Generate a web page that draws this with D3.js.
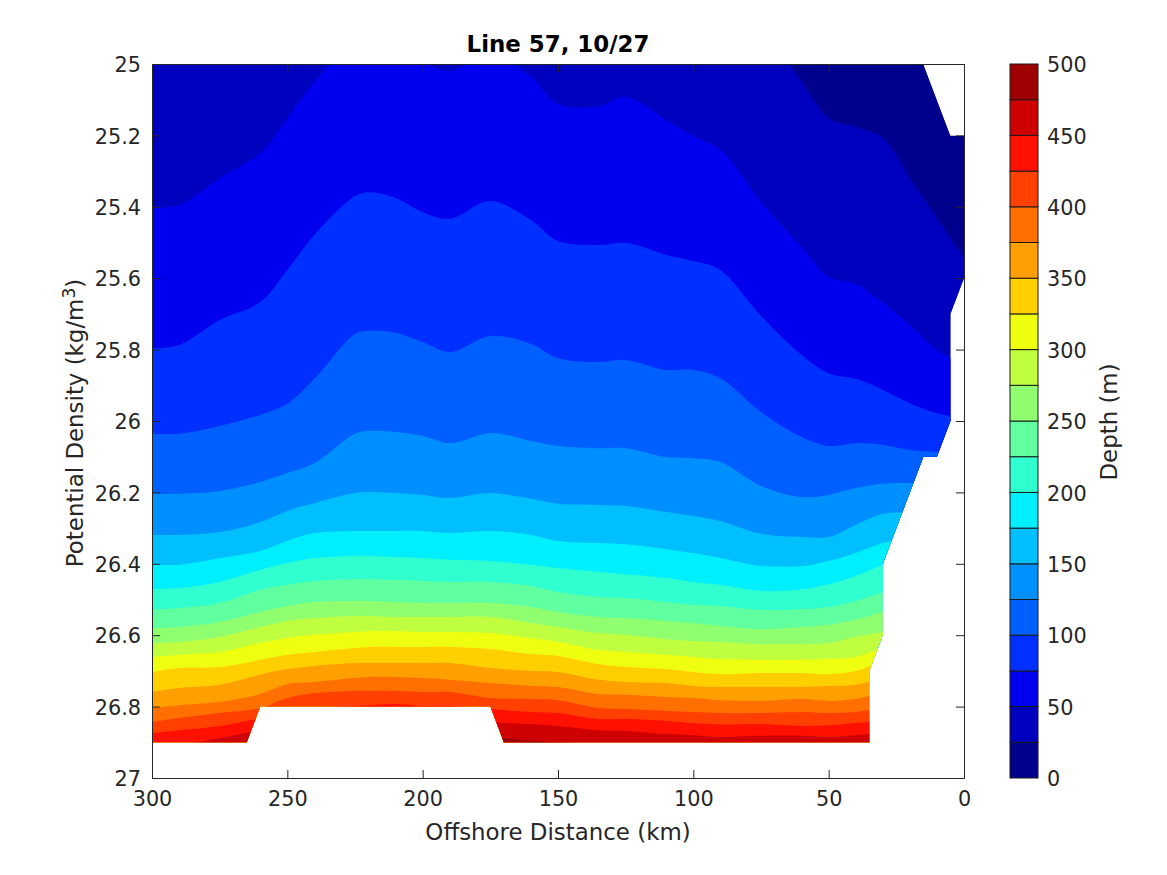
<!DOCTYPE html>
<html>
<head>
<meta charset="utf-8">
<script src="https://cdn.jsdelivr.net/npm/d3@7"></script>
<style>
  body { margin: 0; background: #fff; }
  text { font-family: "DejaVu Sans", sans-serif; fill: #262626; }
</style>
</head>
<body>
<div id="chart-area"></div>
<script>
// offshore stations (km) shared by every depth contour
const stations = [300, 290, 275, 260, 250, 240, 225, 220, 210, 200, 190, 175, 160, 150, 135, 125, 110, 100, 90, 75, 60, 50, 40, 30, 20, 10, 0];

// potential density of each depth contour at the stations
// values under 25 or over 26.9 sit outside the plotted field
const d25 = [24.9, 24.9, 24.9, 24.9, 24.9, 24.9, 24.9, 24.9, 24.9, 24.9, 24.9, 24.9, 24.9, 24.9, 24.9, 24.9, 24.9, 24.9, 24.9, 24.9, 25.05, 25.151, 25.176, 25.207, 25.319, 25.431, 25.543];
const d50 = [25.401, 25.395, 25.319, 25.249, 25.151, 25.05, 24.933, 24.922, 24.933, 24.99, 25.02, 24.97, 25.036, 25.112, 25.118, 25.092, 25.157, 25.202, 25.241, 25.387, 25.513, 25.597, 25.616, 25.669, 25.731, 25.801, 25.843];
const d75 = [25.796, 25.787, 25.717, 25.667, 25.577, 25.479, 25.37, 25.359, 25.375, 25.415, 25.434, 25.384, 25.437, 25.496, 25.507, 25.501, 25.535, 25.552, 25.577, 25.706, 25.815, 25.866, 25.882, 25.913, 25.95, 25.978, 25.992];
const d100 = [26.036, 26.036, 26.014, 25.983, 25.952, 25.882, 25.756, 25.748, 25.753, 25.779, 25.807, 25.762, 25.784, 25.824, 25.835, 25.829, 25.857, 25.857, 25.88, 25.975, 26.045, 26.07, 26.062, 26.067, 26.081, 26.087, 26.095];
const d125 = [26.204, 26.204, 26.196, 26.171, 26.146, 26.118, 26.036, 26.028, 26.031, 26.042, 26.062, 26.034, 26.056, 26.07, 26.076, 26.076, 26.101, 26.104, 26.115, 26.182, 26.213, 26.207, 26.188, 26.176, 26.174, 26.176, 26.182];
const d150 = [26.319, 26.319, 26.311, 26.283, 26.252, 26.23, 26.202, 26.199, 26.202, 26.207, 26.216, 26.202, 26.218, 26.232, 26.235, 26.238, 26.255, 26.266, 26.28, 26.316, 26.325, 26.325, 26.291, 26.26, 26.255, 26.255, 26.255];
const d175 = [26.403, 26.403, 26.384, 26.364, 26.336, 26.314, 26.308, 26.308, 26.308, 26.308, 26.314, 26.308, 26.319, 26.336, 26.342, 26.345, 26.359, 26.37, 26.384, 26.406, 26.406, 26.392, 26.37, 26.342, 26.328, 26.328, 26.328];
const d200 = [26.471, 26.468, 26.451, 26.417, 26.398, 26.384, 26.378, 26.378, 26.381, 26.384, 26.389, 26.392, 26.403, 26.412, 26.423, 26.429, 26.44, 26.451, 26.459, 26.476, 26.471, 26.457, 26.434, 26.403, 26.375, 26.375, 26.375];
const d225 = [26.529, 26.524, 26.51, 26.473, 26.459, 26.448, 26.443, 26.443, 26.445, 26.448, 26.451, 26.451, 26.462, 26.479, 26.493, 26.496, 26.507, 26.515, 26.518, 26.529, 26.527, 26.521, 26.504, 26.479, 26.451, 26.451, 26.451];
const d250 = [26.58, 26.577, 26.563, 26.535, 26.518, 26.507, 26.504, 26.504, 26.507, 26.51, 26.51, 26.51, 26.521, 26.535, 26.549, 26.552, 26.56, 26.566, 26.574, 26.583, 26.577, 26.571, 26.557, 26.535, 26.52, 26.52, 26.52];
const d275 = [26.622, 26.619, 26.605, 26.577, 26.56, 26.552, 26.546, 26.546, 26.549, 26.549, 26.549, 26.549, 26.566, 26.577, 26.594, 26.599, 26.611, 26.616, 26.619, 26.625, 26.625, 26.622, 26.605, 26.591, 26.58, 26.58, 26.58];
const d300 = [26.661, 26.655, 26.647, 26.622, 26.608, 26.599, 26.591, 26.588, 26.588, 26.591, 26.591, 26.594, 26.608, 26.619, 26.641, 26.647, 26.655, 26.661, 26.667, 26.669, 26.669, 26.667, 26.661, 26.636, 26.62, 26.62, 26.62];
const d325 = [26.703, 26.692, 26.689, 26.669, 26.655, 26.647, 26.636, 26.633, 26.633, 26.633, 26.633, 26.639, 26.653, 26.658, 26.681, 26.689, 26.695, 26.703, 26.709, 26.706, 26.706, 26.709, 26.7, 26.675, 26.66, 26.66, 26.66];
const d350 = [26.759, 26.748, 26.739, 26.711, 26.695, 26.686, 26.678, 26.678, 26.678, 26.678, 26.678, 26.692, 26.7, 26.703, 26.725, 26.731, 26.734, 26.742, 26.745, 26.745, 26.745, 26.742, 26.739, 26.72, 26.7, 26.7, 26.7];
const d375 = [26.804, 26.796, 26.787, 26.765, 26.737, 26.731, 26.72, 26.717, 26.717, 26.72, 26.725, 26.734, 26.742, 26.745, 26.765, 26.767, 26.773, 26.776, 26.782, 26.784, 26.779, 26.784, 26.779, 26.76, 26.75, 26.75, 26.75];
const d400 = [26.843, 26.832, 26.818, 26.804, 26.776, 26.762, 26.756, 26.756, 26.756, 26.759, 26.759, 26.776, 26.779, 26.782, 26.804, 26.807, 26.812, 26.815, 26.818, 26.818, 26.815, 26.818, 26.815, 26.804, 26.8, 26.8, 26.8];
const d425 = [26.874, 26.866, 26.854, 26.832, 26.815, 26.804, 26.798, 26.796, 26.793, 26.798, 26.798, 26.807, 26.815, 26.818, 26.835, 26.835, 26.84, 26.846, 26.85, 26.849, 26.854, 26.852, 26.846, 26.838, 26.83, 26.83, 26.83];
const d450 = [26.916, 26.91, 26.888, 26.866, 26.852, 26.838, 26.824, 26.824, 26.824, 26.824, 26.824, 26.843, 26.849, 26.854, 26.866, 26.868, 26.877, 26.88, 26.885, 26.882, 26.882, 26.885, 26.88, 26.874, 26.87, 26.87, 26.87];
const d475 = [26.93, 26.93, 26.93, 26.93, 26.93, 26.93, 26.93, 26.93, 26.93, 26.93, 26.93, 26.888, 26.896, 26.899, 26.91, 26.93, 26.93, 26.93, 26.93, 26.93, 26.93, 26.93, 26.93, 26.93, 26.93, 26.93, 26.93];

// outline of the field that has data
const fieldKm = [300, 15, 5, 0, 0, 5, 5, 10, 15, 30, 30, 35, 35, 170, 175, 260, 265, 300];
const fieldDensity = [25, 25, 25.2, 25.2, 25.6, 25.7, 26, 26.1, 26.1, 26.4, 26.6, 26.7, 26.9, 26.9, 26.8, 26.8, 26.9, 26.9];

const contours = [d25, d50, d75, d100, d125, d150, d175, d200, d225, d250, d275, d300, d325, d350, d375, d400, d425, d450, d475];
const depthEdges = [0, 25, 50, 75, 100, 125, 150, 175, 200, 225, 250, 275, 300, 325, 350, 375, 400, 425, 450, 475, 500];
const bandColors = ["#00008f", "#0000bf", "#0000ef", "#0030ff", "#0060ff", "#008fff", "#00bfff", "#00efff", "#30ffcf", "#60ff9f", "#8fff70", "#bfff40", "#efff10", "#ffcf00", "#ff9f00", "#ff7000", "#ff4000", "#ff1000", "#cf0000", "#9f0000"];

const xTicks = [300, 250, 200, 150, 100, 50, 0];
const yTicks = [25, 25.2, 25.4, 25.6, 25.8, 26, 26.2, 26.4, 26.6, 26.8, 27];
const depthTicks = [0, 50, 100, 150, 200, 250, 300, 350, 400, 450, 500];

const left = 152, right = 964, top_ = 64, bottom = 778;
const axisColor = "#262626";

const svg = d3.select("#chart-area")
  .append("svg")
  .attr("width", 1167)
  .attr("height", 875)
  .style("display", "block");

const x = d3.scaleLinear().domain([300, 0]).range([left, right]);
const y = d3.scaleLinear().domain([25, 27]).range([top_, bottom]);
const depthY = d3.scaleLinear().domain([0, 500]).range([bottom, top_]);

// clip the filled bands to the outline of the field
const outline = d3.line().x(d => x(d[0])).y(d => y(d[1]));
const fieldPoints = d3.zip(fieldKm, fieldDensity);
svg.append("clipPath").attr("id", "field")
  .append("path").attr("d", outline(fieldPoints) + "Z");

const plot = svg.append("g").attr("clip-path", "url(#field)");

plot.append("path")
  .attr("d", outline(fieldPoints) + "Z")
  .attr("fill", bandColors[0]);

// paint shallow to deep, each contour fills everything under it
const band = d3.area()
  .x(d => x(d[0]))
  .y0(bottom)
  .y1(d => y(d[1]))
  .curve(d3.curveCatmullRom.alpha(0.5));

plot.selectAll("path.band")
  .data(contours)
  .enter()
  .append("path")
  .attr("class", "band")
  .attr("d", d => band(d3.zip(stations, d)))
  .attr("fill", (_, i) => bandColors[i + 1]);

// box with inward ticks on all four sides
const tickLen = 8;
function styleAxis(g) {
  g.selectAll(".domain").attr("stroke", axisColor).attr("stroke-width", 1);
  g.selectAll(".tick line").attr("stroke", axisColor);
  g.selectAll(".tick text").attr("font-size", 20.8).attr("fill", axisColor);
}

svg.append("g")
  .attr("transform", `translate(0,${bottom})`)
  .call(d3.axisBottom(x).tickValues(xTicks).tickFormat(d3.format("d")).tickSize(-tickLen).tickSizeOuter(0).tickPadding(13))
  .call(styleAxis);
svg.append("g")
  .attr("transform", `translate(0,${top_})`)
  .call(d3.axisTop(x).tickValues(xTicks).tickFormat("").tickSize(-tickLen).tickSizeOuter(0))
  .call(styleAxis);
svg.append("g")
  .attr("transform", `translate(${left},0)`)
  .call(d3.axisLeft(y).tickValues(yTicks).tickFormat(d3.format("~g")).tickSize(-tickLen).tickSizeOuter(0).tickPadding(11))
  .call(styleAxis)
  .call(g => g.selectAll(".tick text").attr("dy", "0.37em"));
svg.append("g")
  .attr("transform", `translate(${right},0)`)
  .call(d3.axisRight(y).tickValues(yTicks).tickFormat("").tickSize(-tickLen).tickSizeOuter(0))
  .call(styleAxis);

// colour bar
const barLeft = 1010, barRight = 1038;
svg.selectAll("rect.swatch")
  .data(bandColors)
  .enter()
  .append("rect")
  .attr("class", "swatch")
  .attr("x", barLeft)
  .attr("width", barRight - barLeft)
  .attr("y", (_, i) => depthY(depthEdges[i + 1]))
  .attr("height", (_, i) => depthY(depthEdges[i]) - depthY(depthEdges[i + 1]))
  .attr("fill", d => d)
  .attr("stroke", "#1a1a1a")
  .attr("stroke-width", 1);

svg.append("g")
  .attr("transform", `translate(${barRight},0)`)
  .call(d3.axisRight(depthY).tickValues(depthTicks).tickSize(0).tickPadding(9))
  .call(styleAxis)
  .call(g => g.select(".domain").remove())
  .call(g => g.selectAll(".tick text").attr("dy", "0.37em"));

svg.append("text")
  .attr("x", 558).attr("y", 52)
  .attr("text-anchor", "middle")
  .attr("font-size", 22.9).attr("font-weight", "bold")
  .style("fill", "#000")
  .text("Line 57, 10/27");

svg.append("text")
  .attr("x", 558).attr("y", 840)
  .attr("text-anchor", "middle")
  .attr("font-size", 22.9)
  .text("Offshore Distance (km)");

const yLabel = svg.append("text")
  .attr("transform", "translate(83,423) rotate(-90)")
  .attr("text-anchor", "middle")
  .attr("font-size", 22.9);
yLabel.append("tspan").text("Potential Density (kg/m");
yLabel.append("tspan").attr("font-size", 17).attr("dy", -8).text("3");
yLabel.append("tspan").attr("dy", 8).text(")");

svg.append("text")
  .attr("transform", "translate(1117,422) rotate(-90)")
  .attr("text-anchor", "middle")
  .attr("font-size", 22.9)
  .text("Depth (m)");
</script>
</body>
</html>
